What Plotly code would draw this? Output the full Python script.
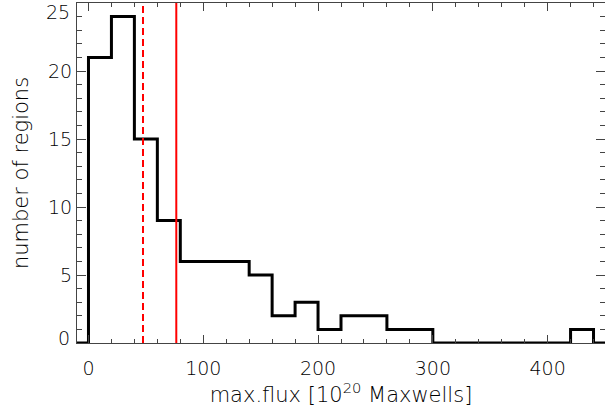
import plotly.graph_objects as go

bin_edges = [0, 20, 40, 60, 80, 100, 120, 140, 160, 180, 200, 220, 240, 260, 280,
             300, 320, 340, 360, 380, 400, 420, 440]
counts = [21, 24, 15, 9, 6, 6, 6, 5, 2, 3, 1, 2, 2, 1, 1, 0, 0, 0, 0, 0, 0, 1]
median_flux = 47.5
mean_flux = 76.5
x_range = [-10, 450]
y_range = [0, 25]
x_ticks = [0, 100, 200, 300, 400]
y_ticks = [5, 10, 15, 20]
y_end_labels = [0, 25]

# build step outline of histogram
xs = [x_range[0], bin_edges[0]]
ys = [0, 0]
for i, c in enumerate(counts):
    xs += [bin_edges[i], bin_edges[i + 1]]
    ys += [c, c]
xs += [bin_edges[-1], x_range[1]]
ys += [0, 0]

FONT = "DejaVu Sans"
TXT = "#000000"
AX = "#444444"
tickfont = dict(family=FONT, size=19, color=TXT, weight=200)
titlefont = dict(family=FONT, size=21, color=TXT, weight=200)

fig = go.Figure()
fig.add_trace(go.Scatter(x=xs, y=ys, mode="lines",
                         line=dict(color="black", width=3),
                         hoverinfo="skip", showlegend=False))
fig.add_trace(go.Scatter(x=[median_flux, median_flux], y=y_range, mode="lines",
                         line=dict(color="#ff0000", width=2, dash="7px,4px"),
                         showlegend=False))
fig.add_trace(go.Scatter(x=[mean_flux, mean_flux], y=y_range, mode="lines",
                         line=dict(color="#ff0000", width=2),
                         showlegend=False))

axis_common = dict(showgrid=False, zeroline=False, showline=True, linecolor=AX,
                   linewidth=1, mirror="allticks", ticks="inside", tickcolor=AX,
                   tickfont=tickfont, automargin=False)

fig.update_xaxes(range=x_range, tickvals=x_ticks, ticklen=8, tickwidth=1,
                 minor=dict(dtick=20, ticks="inside", ticklen=4, tickcolor=AX, showgrid=False),
                 title=dict(text="max.flux [10<sup>20</sup> Maxwells]", font=titlefont, standoff=3),
                 ticklabelstandoff=8, **axis_common)
fig.update_yaxes(range=y_range, tickvals=y_ticks, ticklen=9, tickwidth=1,
                 minor=dict(dtick=1, ticks="inside", ticklen=5, tickcolor=AX, showgrid=False),
                 title=dict(text="number of regions", font=titlefont, standoff=13),
                 **axis_common)

for val, shift in zip(y_end_labels, [5, -9]):
    fig.add_annotation(x=0, xref="paper", xanchor="right", xshift=-5,
                       y=val, yref="y", yanchor="middle", yshift=shift,
                       text=str(val), showarrow=False, font=tickfont)

fig.update_layout(width=605, height=416, plot_bgcolor="white", paper_bgcolor="white",
                  margin=dict(l=77, r=0, t=3, b=73))

fig.write_html("out.html", config={"displayModeBar": False},
               post_script="document.body.style.margin='0';document.body.style.overflow='hidden';")
